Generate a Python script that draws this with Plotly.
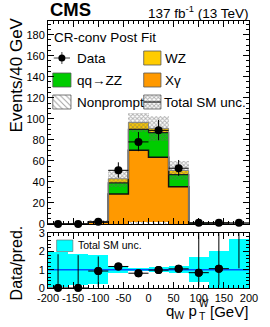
import plotly.graph_objects as go

# ---------------- data ----------------
edges = [-200, -160, -120, -80, -40, 0, 40, 80, 120, 160, 200]
centers = [-180, -140, -100, -60, -20, 20, 60, 100, 140, 180]
data = [0, 0, 2, 51, 78, 89, 53, 1, 1, 1]
data_err_hi = [1.84, 1.84, 2.64, 7.6, 9.4, 9.9, 7.8, 2.3, 2.3, 2.3]
data_err_lo = [0, 0, 1.29, 7.1, 8.8, 9.4, 7.3, 0.83, 0.83, 0.83]
nonprompt = [0, 0, 0.2, 0.3, 1.5, 1.5, 0.3, 0, 0, 0]
xgamma = [0, 0, 1.5, 28.2, 68.5, 61.8, 35.0, 0.8, 0.6, 0.2]
zz = [0, 0, 0.3, 10.5, 20.0, 23.5, 11.5, 0.2, 0.2, 0.05]
wz = [0, 0, 0.2, 4.0, 6.5, 4.0, 4.0, 0.2, 0.15, 0.05]
rel_unc = [0.95, 0.85, 0.8, 0.19, 0.095, 0.135, 0.18, 0.7, 1.0, 1.65]
ratio = [0, 0, 0.93, 1.18, 0.81, 0.98, 1.05, 0.84, 1.06, 3.4]
ratio_err_hi = [1.85, 1.8, 0.8, 0.17, 0.1, 0.11, 0.15, 2.5, 2.5, 2.0]
ratio_err_lo = [0, 0, 0.87, 0.16, 0.09, 0.1, 0.14, 0.77, 0.9, 2.32]
bin_half = [20] * 10
x_tickvals = [-200, -150, -100, -50, 0, 50, 100, 150, 200]
x_ticktext = ["-200", "-150", "-100", "-50", "0", "50", "100", "150", "200"]

C_XG = "#ff9900"
C_ZZ = "#00cc00"
C_WZ = "#ffcc00"
C_CYAN = "#00ffff"
C_BLUE = "#0050ff"
FONT = "Liberation Sans, Arial, sans-serif"

W, H = 270, 327
L, R, T, B = 48, 12, 21, 39
PW, PH = W - L - R, H - T - B
MAIN_DOM = [0.24, 1.0]
RAT_DOM = [0.0, 0.205]
main_bottom_px = T + (1 - MAIN_DOM[0]) * PH


def px(x):
    return (x - L) / PW


def py(y):
    return (H - B - y) / PH


# cumulative stack
n = len(centers)
b_np = [0] * n
b_xg = [nonprompt[i] for i in range(n)]
b_zz = [b_xg[i] + xgamma[i] for i in range(n)]
b_wz = [b_zz[i] + zz[i] for i in range(n)]
total = [b_wz[i] + wz[i] for i in range(n)]
unc = [total[i] * rel_unc[i] for i in range(n)]

fig = go.Figure()


def stack_bar(vals, base, color, pattern=None):
    kw = dict(x=centers, y=vals, base=base, width=40, xaxis="x", yaxis="y",
              marker=dict(color=color, line=dict(width=0)), showlegend=False,
              hoverinfo="skip")
    if pattern:
        kw["marker"]["pattern"] = pattern
    fig.add_trace(go.Bar(**kw))


stack_bar(nonprompt, b_np, "white",
          dict(shape="\\", fgcolor="#444", bgcolor="white", size=4, solidity=0.25))
stack_bar(xgamma, b_xg, C_XG)
stack_bar(zz, b_zz, C_ZZ)
stack_bar(wz, b_wz, C_WZ)


def step_line(tops, color, width):
    fig.add_trace(go.Scatter(x=edges, y=list(tops) + [tops[-1]], mode="lines",
                             line=dict(shape="hv", color=color, width=width),
                             xaxis="x", yaxis="y", showlegend=False, hoverinfo="skip"))


step_line(b_zz, "#111", 1.5)
step_line(b_wz, "#222", 1.2)
step_line(total, "#888", 1)

# total uncertainty hatch
fig.add_trace(go.Bar(x=centers, y=[2 * u for u in unc], base=[total[i] - unc[i] for i in range(n)],
                     width=40, xaxis="x", yaxis="y", showlegend=False, hoverinfo="skip",
                     marker=dict(color="rgba(0,0,0,0)", line=dict(width=0),
                                 pattern=dict(shape="x", fgcolor="#666", bgcolor="rgba(255,255,255,0)",
                                              size=3, solidity=0.55))))

# data
fig.add_trace(go.Scatter(x=centers, y=data, mode="markers", xaxis="x", yaxis="y",
                         marker=dict(color="black", size=8),
                         error_y=dict(type="data", symmetric=False, array=data_err_hi,
                                      arrayminus=data_err_lo, color="black", thickness=1, width=0),
                         error_x=dict(type="data", array=bin_half, color="black", thickness=1, width=0),
                         cliponaxis=False, showlegend=False, hoverinfo="skip"))

# ratio panel
fig.add_trace(go.Bar(x=centers, y=[2 * r for r in rel_unc], base=[1 - r for r in rel_unc],
                     width=40, xaxis="x2", yaxis="y2", showlegend=False, hoverinfo="skip",
                     marker=dict(color=C_CYAN, line=dict(width=0))))
fig.add_trace(go.Scatter(x=[-200, 200], y=[1, 1], mode="lines", xaxis="x2", yaxis="y2",
                         line=dict(color=C_BLUE, width=1.5), showlegend=False, hoverinfo="skip"))
fig.add_trace(go.Scatter(x=centers, y=ratio, mode="markers", xaxis="x2", yaxis="y2",
                         marker=dict(color="black", size=8),
                         error_y=dict(type="data", symmetric=False, array=ratio_err_hi,
                                      arrayminus=ratio_err_lo, color="black", thickness=1, width=0),
                         error_x=dict(type="data", array=bin_half, color="black", thickness=1, width=0),
                         cliponaxis=True, showlegend=False, hoverinfo="skip"))
vis = [i for i in range(n) if ratio[i] <= 3]
fig.add_trace(go.Scatter(x=[centers[i] for i in vis], y=[ratio[i] for i in vis], mode="markers",
                         xaxis="x2", yaxis="y2", marker=dict(color="black", size=8),
                         cliponaxis=False, showlegend=False, hoverinfo="skip"))

# ---------------- legend (pixel overlay axes) ----------------
def box(x0, x1, y0, y1, color, pattern=None, line_color="#555"):
    kw = dict(x=[x0, x1, x1, x0, x0], y=[y0, y0, y1, y1, y0], mode="lines", fill="toself",
              fillcolor=color, line=dict(color=line_color, width=0.8), xaxis="x3", yaxis="y3",
              showlegend=False, hoverinfo="skip")
    if pattern:
        kw["fillpattern"] = pattern
    fig.add_trace(go.Scatter(**kw))


fig.add_trace(go.Scatter(x=[54, 71], y=[58, 58], mode="lines", line=dict(color="#444", width=1),
                         xaxis="x3", yaxis="y3", showlegend=False, hoverinfo="skip"))
fig.add_trace(go.Scatter(x=[62.5, 62.5], y=[52, 64], mode="lines", line=dict(color="#444", width=1),
                         xaxis="x3", yaxis="y3", showlegend=False, hoverinfo="skip"))
fig.add_trace(go.Scatter(x=[62.5], y=[58], mode="markers", marker=dict(color="black", size=7),
                         xaxis="x3", yaxis="y3", showlegend=False, hoverinfo="skip"))
box(148, 166, 51, 65, C_WZ)
box(53, 72, 73, 87, C_ZZ)
box(148, 166, 73, 87, C_XG)
box(53, 72, 95, 109, "white",
    dict(shape="\\", fgcolor="#444", bgcolor="white", size=4, solidity=0.25))
box(148, 166, 95, 109, "white",
    dict(shape="x", fgcolor="#666", bgcolor="white", size=3, solidity=0.55))
fig.add_trace(go.Scatter(x=[148, 166], y=[102, 102], mode="lines", line=dict(color="#222", width=1.2),
                         xaxis="x3", yaxis="y3", showlegend=False, hoverinfo="skip"))

annotations = []


def txt(x, y, s, size, xanchor="left", ref="pix", angle=0, **kw):
    if ref == "pix":
        d = dict(x=x, y=y, xref="x3", yref="y3")
    else:
        d = dict(x=px(x), y=py(y), xref="paper", yref="paper")
    d.update(text=s, showarrow=False, xanchor=xanchor, yanchor="middle", textangle=angle,
             font=dict(family=FONT, size=size, color="black"), borderpad=0)
    d.update(kw)
    annotations.append(d)


txt(53, 37, "CR-conv Post Fit", 13.5)
txt(77, 58, "Data", 13.5)
txt(169, 58, "WZ", 13.5)
txt(77, 80, "qq→ZZ", 13.5)
txt(169, 80, "Xγ", 13.5)
txt(77, 102, "Nonprompt", 13.5)
txt(168, 102, "Total SM unc.", 13.5)

txt(49, 10, "<b>CMS</b>", 18.5, ref="paper")
txt(258, 12, "137 fb<sup>-1</sup> (13 TeV)", 13.5, xanchor="right", ref="paper")
txt(15, 75, "Events/40 GeV", 17, xanchor="center", ref="paper", angle=-90)
txt(15, 263, "Data/pred.", 16, xanchor="center", ref="paper", angle=-90)
# x-axis title with stacked sub/superscript on p
txt(258, 311, "[GeV]", 15, xanchor="right", ref="paper")
txt(205, 316, "T", 10.5, xanchor="left", ref="paper")
txt(205, 303, "W", 10, xanchor="left", ref="paper")
txt(205, 311, "q<sub>W</sub> p", 15, xanchor="right", ref="paper")
txt(78, 245.5, "Total SM unc.", 10.5, ref="paper")

shapes = [dict(type="rect", xref="paper", yref="paper", x0=px(57), x1=px(74), y0=py(251.5), y1=py(240),
               fillcolor=C_CYAN, line=dict(color="#666", width=0.6))]

axis_common = dict(showgrid=False, zeroline=False, showline=True, linecolor="black", linewidth=1,
                   mirror="allticks", ticks="inside", ticklen=6, tickcolor="black", tickwidth=1,
                   tickfont=dict(family=FONT, size=11, color="black"))

fig.update_layout(
    width=W, height=H, margin=dict(l=L, r=R, t=T, b=B, pad=0),
    paper_bgcolor="white", plot_bgcolor="rgba(0,0,0,0)",
    barmode="overlay", bargap=0,
    font=dict(family=FONT, color="black"),
    xaxis=dict(domain=[0, 1], range=[-200, 200], anchor="y", showticklabels=False,
               tickvals=x_tickvals,
               minor=dict(ticks="inside", ticklen=3, dtick=10, tickcolor="black"), **axis_common),
    yaxis=dict(domain=MAIN_DOM, range=[0, 193], anchor="x", tick0=0, dtick=20,
               minor=dict(ticks="inside", ticklen=3, dtick=5, tickcolor="black"), **axis_common),
    xaxis2=dict(domain=[0, 1], range=[-200, 200], anchor="y2", tickvals=x_tickvals,
                ticktext=x_ticktext, tickangle=0,
                minor=dict(ticks="inside", ticklen=3, dtick=10, tickcolor="black"), **axis_common),
    yaxis2=dict(domain=RAT_DOM, range=[0, 3], anchor="x2", tick0=0, dtick=1,
                minor=dict(ticks="inside", ticklen=3, dtick=0.2, tickcolor="black"), **axis_common),
    xaxis3=dict(overlaying="x", range=[L, W - R], visible=False, anchor="y3"),
    yaxis3=dict(overlaying="y", range=[main_bottom_px, T], visible=False, anchor="x3"),
    annotations=annotations, shapes=shapes,
)

fig.write_html("out.html", config={"displayModeBar": False},
               post_script="document.body.style.margin='0';document.body.style.padding='0';")
